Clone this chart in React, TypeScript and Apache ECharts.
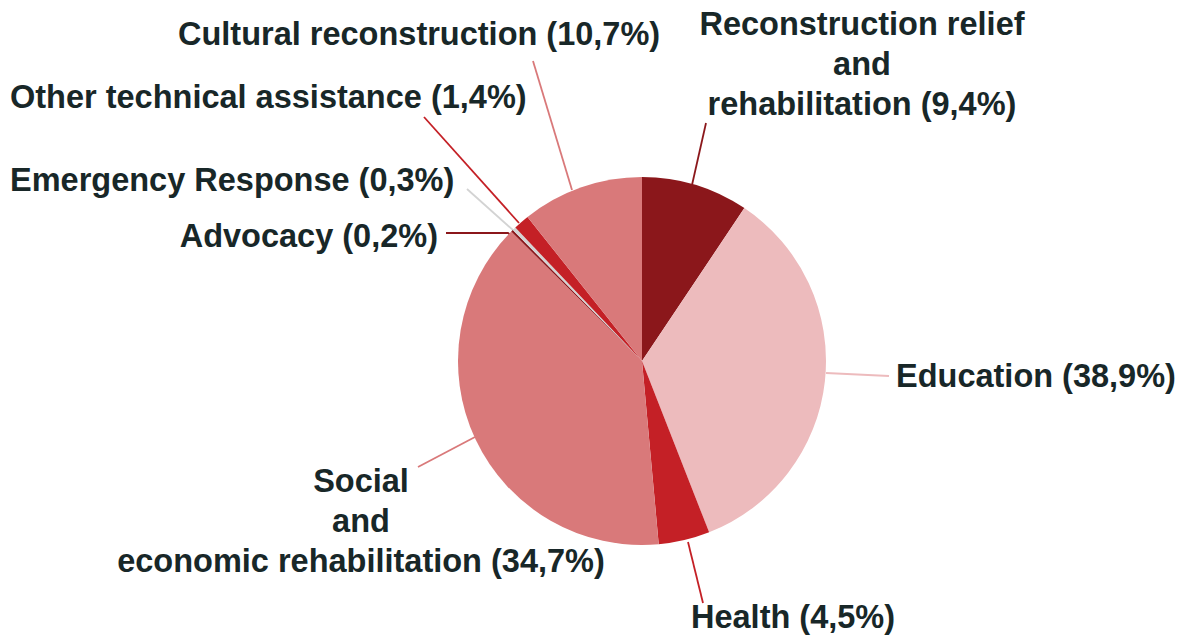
import React, { useEffect, useRef } from "react";
import * as echarts from "echarts";

const categories = [
  "Reconstruction relief\nand\nrehabilitation",
  "Education",
  "Health",
  "Social\nand\neconomic rehabilitation",
  "Advocacy",
  "Emergency Response",
  "Other technical assistance",
  "Cultural reconstruction",
];
// slice sizes as drawn in the reference
const sliceValues = [9.4, 34.7, 4.5, 38.9, 0.2, 0.3, 1.4, 10.7];
// percentages as printed in the reference labels
const labelPercents = ["9,4%", "38,9%", "4,5%", "34,7%", "0,2%", "0,3%", "1,4%", "10,7%"];
const colors = ["#8B171B", "#EDBBBD", "#C42026", "#D9797A", "#8B171B", "#D3D3D3", "#C42026", "#D9797A"];

// label placement (positions only)
const labelLayouts = [
  { x: 862, y: 64, align: "center", line: [[692, 185], [706, 123]] },
  { x: 896, y: 376, align: "left", line: [[826, 373], [889, 376]] },
  { x: 691, y: 617, align: "left", line: [[688, 542], [703, 603]] },
  { x: 361, y: 521, align: "center", line: [[475, 437], [418, 467]] },
  { x: 438, y: 236, align: "right", line: [[512, 236], [508, 233], [446, 233]] },
  { x: 10, y: 180, align: "left", line: [[514, 231], [467, 189]] },
  { x: 10, y: 97, align: "left", line: [[519, 223], [424, 117]] },
  { x: 178, y: 34, align: "left", line: [[572, 190], [533, 61]] },
];

export default function App() {
  const ref = useRef<HTMLDivElement>(null);
  useEffect(() => {
    if (!ref.current) return;
    const chart = echarts.init(ref.current, null, { renderer: "svg" });
    chart.setOption({
      animation: false,
      backgroundColor: "#ffffff",
      series: [
        {
          type: "pie",
          center: [642, 361],
          radius: 184,
          startAngle: 90,
          clockwise: true,
          avoidLabelOverlap: false,
          data: categories.map((name, i) => ({
            name,
            value: sliceValues[i],
            itemStyle: { color: colors[i] },
          })),
          label: {
            show: true,
            position: "outside",
            formatter: (p: any) => `${p.name} (${labelPercents[p.dataIndex]})`,
            fontFamily: "Liberation Sans, Arial, sans-serif",
            fontWeight: "bold",
            fontSize: 32.5,
            lineHeight: 40,
            color: "#182728",
          },
          labelLine: { show: true, lineStyle: { width: 1.8 } },
          labelLayout: (params: any) => {
            const p = labelLayouts[params.dataIndex];
            return {
              x: p.x,
              y: p.y,
              align: p.align,
              verticalAlign: "middle",
              labelLinePoints: p.line,
            };
          },
          emphasis: { disabled: true },
        },
      ],
    });
    return () => chart.dispose();
  }, []);
  return (
    <div
      ref={ref}
      style={{ position: "fixed", left: 0, top: 0, width: 1184, height: 635 }}
    />
  );
}
